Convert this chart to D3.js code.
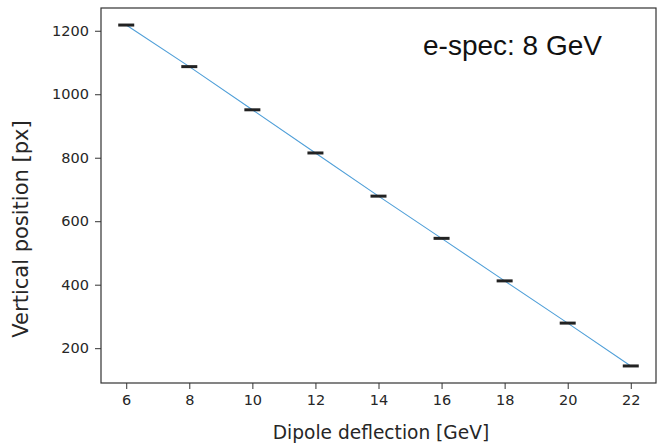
<!DOCTYPE html>
<html>
<head>
<meta charset="utf-8">
<script src="https://cdn.jsdelivr.net/npm/d3@7"></script>
<style>
  html, body { margin: 0; padding: 0; background: #fff; }
  svg { display: block; }
</style>
</head>
<body>
<script>
// Data
const deflection = [6, 8, 10, 12, 14, 16, 18, 20, 22];
const position = [1218, 1087, 951, 815, 679, 546, 412, 279, 144];
const xTicks = [6, 8, 10, 12, 14, 16, 18, 20, 22];
const yTicks = [200, 400, 600, 800, 1000, 1200];
const annotation = "e-spec: 8 GeV";
const xLabel = "Dipole deflection [GeV]";
const yLabel = "Vertical position [px]";

const W = 658, H = 448;
const m = { left: 101, right: 656, top: 8, bottom: 383 };

const svg = d3.select("body").append("svg").attr("width", W).attr("height", H);

const xr = d3.extent(deflection), yr = d3.extent(position);
const xpad = (xr[1] - xr[0]) * 0.05, ypad = (yr[1] - yr[0]) * 0.05;
const x = d3.scaleLinear().domain([xr[0] - xpad, xr[1] + xpad]).range([m.left, m.right]);
const y = d3.scaleLinear().domain([yr[0] - ypad, yr[1] + ypad]).range([m.bottom, m.top]);

const font = "'DejaVu Sans', sans-serif";
const textColor = "#262626";

// axes
const xAxis = svg.append("g").attr("transform", `translate(0,${m.bottom})`)
  .call(d3.axisBottom(x).tickValues(xTicks).tickFormat(d3.format("d")).tickSize(6).tickPadding(6).tickSizeOuter(0));
const yAxis = svg.append("g").attr("transform", `translate(${m.left},0)`)
  .call(d3.axisLeft(y).tickValues(yTicks).tickFormat(d3.format("d")).tickSize(6).tickPadding(6).tickSizeOuter(0));
[xAxis, yAxis].forEach(g => {
  g.select(".domain").remove();
  g.selectAll("line").attr("stroke", "#333").attr("stroke-width", 1);
  g.selectAll("text").attr("font-family", font).attr("font-size", 14.5).attr("fill", textColor);
});

// frame
svg.append("rect").attr("x", m.left).attr("y", m.top)
  .attr("width", m.right - m.left).attr("height", m.bottom - m.top)
  .attr("fill", "none").attr("stroke", "#333").attr("stroke-width", 1.2);

// line
const line = d3.line().x((d, i) => x(deflection[i])).y(d => y(d));
svg.append("path").datum(position).attr("d", line)
  .attr("fill", "none").attr("stroke", "#4f9fd8").attr("stroke-width", 1.1);

// error-bar caps
svg.selectAll("rect.cap").data(position).enter().append("rect")
  .attr("class", "cap")
  .attr("x", (d, i) => x(deflection[i]) - 8)
  .attr("y", d => y(d) - 1.5)
  .attr("width", 16).attr("height", 3)
  .attr("fill", "#222");

// annotation
svg.append("text").attr("x", 423).attr("y", 55)
  .attr("font-family", "'Liberation Sans', Arial, sans-serif")
  .attr("font-size", 28).attr("fill", "#111").text(annotation);

// axis labels
svg.append("text").attr("x", 381).attr("y", 439)
  .attr("text-anchor", "middle").attr("font-family", font).attr("font-size", 18.6)
  .attr("fill", textColor).text(xLabel);
svg.append("text").attr("transform", `translate(28,229) rotate(-90)`)
  .attr("text-anchor", "middle").attr("font-family", font).attr("font-size", 21)
  .attr("fill", textColor).text(yLabel);
</script>
</body>
</html>
